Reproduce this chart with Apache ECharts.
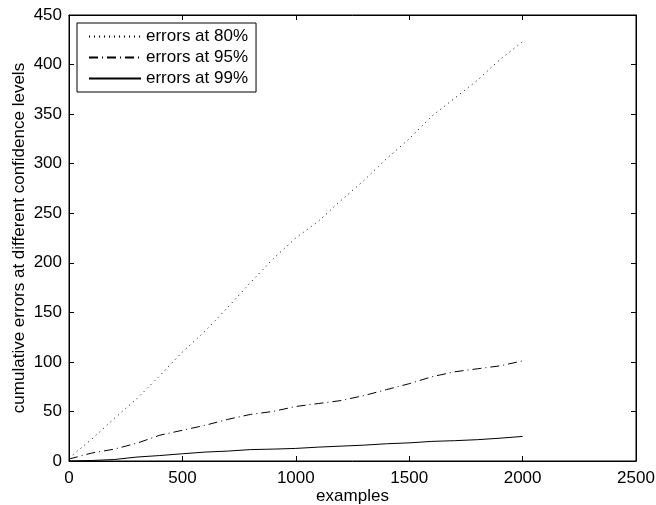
<!DOCTYPE html>
<html>
<head>
<meta charset="utf-8">
<script src="https://cdn.jsdelivr.net/npm/echarts@6/dist/echarts.min.js"></script>
<style>
  html, body { margin: 0; padding: 0; background: #fff; }
  #main { width: 656px; height: 505px; }
</style>
</head>
<body>
<div id="main"></div>
<script>
// number of examples seen
const examples = [0, 100, 200, 300, 400, 500, 600, 700, 800, 900, 1000,
  1100, 1200, 1300, 1400, 1500, 1600, 1700, 1800, 1900, 2000];

// cumulative errors
const err80 = [3, 22, 43, 63, 86, 110, 131, 155, 180, 204, 225,
  242, 263, 283, 305, 325, 348, 366, 384, 405, 423];
const err95 = [2, 8, 12, 18, 26, 31, 36, 42, 47, 50, 55,
  58, 61, 66, 72, 78, 85, 90, 93, 96, 101];
const err99 = [0, 0.5, 1.5, 4, 5.5, 7.3, 9, 10, 11.5, 12, 12.7,
  14, 15, 16, 17.4, 18.3, 19.8, 20.5, 21.5, 23, 24.8];

const names = ["errors at 80%", "errors at 95%", "errors at 99%"];

const font = "Liberation Sans, Arial, sans-serif";

function pairs(ys) {
  return examples.map((x, i) => [x, ys[i]]);
}

// plain axis look, box around the plot like matlab
function line() {
  return { show: true, onZero: false, lineStyle: { color: "#000", width: 1 } };
}
function tick() {
  return { show: true, inside: true, length: 5, lineStyle: { color: "#000", width: 1 } };
}
const plain = (v) => String(v);

let option = {
  animation: false,
  backgroundColor: "#fff",
  textStyle: { fontFamily: font, color: "#000" },
  grid: {
    left: 69, right: 20, top: 15, bottom: 44,
    containLabel: false, outerBoundsMode: "none",
    show: true, borderColor: "#000", borderWidth: 1,
  },
  legend: {
    orient: "vertical",
    left: 77,
    top: 23,
    padding: [5, 8, 5, 11],
    itemWidth: 52,
    itemHeight: 14,
    itemGap: 4,
    backgroundColor: "#fff",
    borderColor: "#000",
    borderWidth: 1,
    itemStyle: { opacity: 0 },
    textStyle: { fontFamily: font, fontSize: 17, color: "#000", lineHeight: 17 },
    data: names,
  },
  xAxis: [
    {
      type: "value",
      position: "bottom",
      min: 0,
      max: 2500,
      interval: 500,
      name: "examples",
      nameLocation: "middle",
      nameGap: 27,
      nameMoveOverlap: false,
      nameTextStyle: { fontFamily: font, fontSize: 17, color: "#000" },
      axisLine: line(),
      axisTick: tick(),
      axisLabel: { fontFamily: font, fontSize: 17, color: "#000", margin: 9, formatter: plain },
      splitLine: { show: false },
    },
    {
      type: "value",
      position: "top",
      min: 0,
      max: 2500,
      interval: 500,
      axisLine: line(),
      axisTick: tick(),
      axisLabel: { show: false },
      splitLine: { show: false },
    },
  ],
  yAxis: [
    {
      type: "value",
      position: "left",
      min: 0,
      max: 450,
      interval: 50,
      name: "cumulative errors at different confidence levels",
      nameLocation: "middle",
      nameGap: 41,
      nameMoveOverlap: false,
      nameTextStyle: { fontFamily: font, fontSize: 17, color: "#000" },
      axisLine: line(),
      axisTick: tick(),
      axisLabel: { fontFamily: font, fontSize: 17, color: "#000", margin: 7, formatter: plain },
      splitLine: { show: false },
    },
    {
      type: "value",
      position: "right",
      min: 0,
      max: 450,
      interval: 50,
      axisLine: line(),
      axisTick: tick(),
      axisLabel: { show: false },
      splitLine: { show: false },
    },
  ],
  series: [
    {
      name: names[0],
      type: "line",
      symbol: "none",
      data: pairs(err80),
      lineStyle: { color: "#000", width: 1, type: [1, 4] },
      itemStyle: { color: "#000" },
    },
    {
      name: names[1],
      type: "line",
      symbol: "none",
      data: pairs(err95),
      lineStyle: { color: "#000", width: 1, type: [9, 4, 1, 4] },
      itemStyle: { color: "#000" },
    },
    {
      name: names[2],
      type: "line",
      symbol: "none",
      data: pairs(err99),
      lineStyle: { color: "#000", width: 1, type: "solid" },
      itemStyle: { color: "#000" },
    },
  ],
};

var myChart = echarts.init(document.getElementById("main"));

window.onresize = function () {
  myChart.resize();
};

myChart.setOption(option);
</script>
</body>
</html>
